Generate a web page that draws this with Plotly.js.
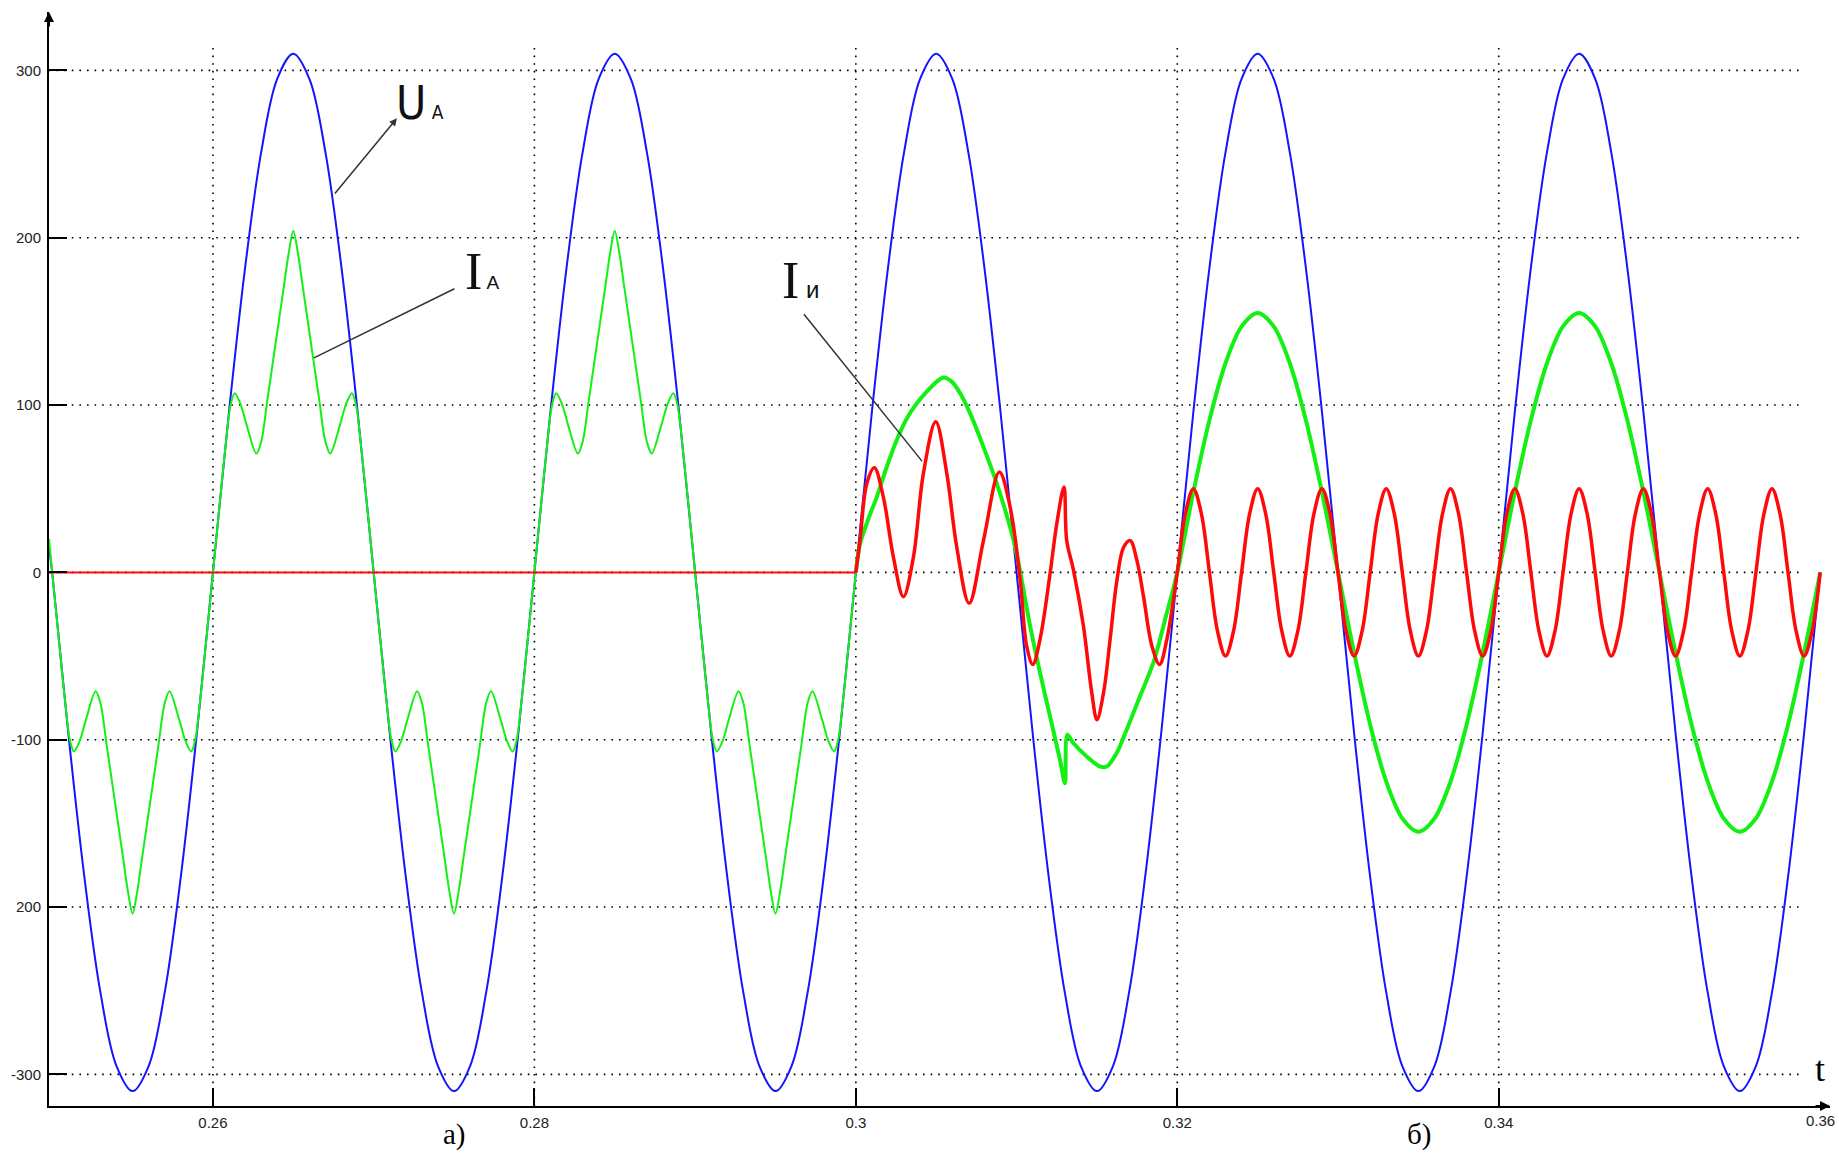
<!DOCTYPE html>
<html>
<head>
<meta charset="utf-8">
<script src="https://cdn.plot.ly/plotly-3.0.1.min.js"></script>
<style>html,body{margin:0;padding:0;background:#fff;}#chart{width:1839px;height:1155px;}</style>
</head>
<body>
<div id="chart"></div>
<script>
// ---------------- data ----------------
// U_A (voltage), blue
var uT = [0.2498,
0.250,0.251,0.252,0.253,0.254,0.255,0.256,0.257,0.258,0.259,
0.260,0.261,0.262,0.263,0.264,0.265,0.266,0.267,0.268,0.269,
0.270,0.271,0.272,0.273,0.274,0.275,0.276,0.277,0.278,0.279,
0.280,0.281,0.282,0.283,0.284,0.285,0.286,0.287,0.288,0.289,
0.290,0.291,0.292,0.293,0.294,0.295,0.296,0.297,0.298,0.299,
0.300,0.301,0.302,0.303,0.304,0.305,0.306,0.307,0.308,0.309,
0.310,0.311,0.312,0.313,0.314,0.315,0.316,0.317,0.318,0.319,
0.320,0.321,0.322,0.323,0.324,0.325,0.326,0.327,0.328,0.329,
0.330,0.331,0.332,0.333,0.334,0.335,0.336,0.337,0.338,0.339,
0.340,0.341,0.342,0.343,0.344,0.345,0.346,0.347,0.348,0.349,
0.350,0.351,0.352,0.353,0.354,0.355,0.356,0.357,0.358,0.359,
0.360];
var uV = [15,
0,-96,-182,-251,-295,-310,-295,-251,-182,-96,
0,96,182,251,295,310,295,251,182,96,
0,-96,-182,-251,-295,-310,-295,-251,-182,-96,
0,96,182,251,295,310,295,251,182,96,
0,-96,-182,-251,-295,-310,-295,-251,-182,-96,
0,96,182,251,295,310,295,251,182,96,
0,-96,-182,-251,-295,-310,-295,-251,-182,-96,
0,96,182,251,295,310,295,251,182,96,
0,-96,-182,-251,-295,-310,-295,-251,-182,-96,
0,96,182,251,295,310,295,251,182,96,
0,-96,-182,-251,-295,-310,-295,-251,-182,-96,
0];

// I_A (line current) before compensation, thin green, 0.25 .. 0.30
var iaT1 = [0.2498,
0.2500,0.2504,0.2508,0.2511,0.25135,0.2517,0.2521,0.2527,0.2530,0.2534,0.2539,0.2544,0.2547,0.2550,0.2553,0.2556,0.2561,0.2566,0.2570,0.2573,0.2579,0.2583,0.25865,0.2589,0.2592,0.2596,
0.2600,0.2604,0.2608,0.2611,0.26135,0.2617,0.2621,0.2627,0.2630,0.2634,0.2639,0.2644,0.2647,0.2650,0.2653,0.2656,0.2661,0.2666,0.2670,0.2673,0.2679,0.2683,0.26865,0.2689,0.2692,0.2696,
0.2700,0.2704,0.2708,0.2711,0.27135,0.2717,0.2721,0.2727,0.2730,0.2734,0.2739,0.2744,0.2747,0.2750,0.2753,0.2756,0.2761,0.2766,0.2770,0.2773,0.2779,0.2783,0.27865,0.2789,0.2792,0.2796,
0.2800,0.2804,0.2808,0.2811,0.28135,0.2817,0.2821,0.2827,0.2830,0.2834,0.2839,0.2844,0.2847,0.2850,0.2853,0.2856,0.2861,0.2866,0.2870,0.2873,0.2879,0.2883,0.28865,0.2889,0.2892,0.2896,
0.2900,0.2904,0.2908,0.2911,0.29135,0.2917,0.2921,0.2927,0.2930,0.2934,0.2939,0.2944,0.2947,0.2950,0.2953,0.2956,0.2961,0.2966,0.2970,0.2973,0.2979,0.2983,0.29865,0.2989,0.2992,0.2996,
0.3000];
var iaV1 = [20,
0,-39,-77,-100,-107,-101,-88,-71,-78,-104,-137,-170,-190,-204,-190,-170,-137,-104,-78,-71,-88,-101,-107,-100,-77,-39,
0,39,77,100,107,101,88,71,78,104,137,170,190,204,190,170,137,104,78,71,88,101,107,100,77,39,
0,-39,-77,-100,-107,-101,-88,-71,-78,-104,-137,-170,-190,-204,-190,-170,-137,-104,-78,-71,-88,-101,-107,-100,-77,-39,
0,39,77,100,107,101,88,71,78,104,137,170,190,204,190,170,137,104,78,71,88,101,107,100,77,39,
0,-39,-77,-100,-107,-101,-88,-71,-78,-104,-137,-170,-190,-204,-190,-170,-137,-104,-78,-71,-88,-101,-107,-100,-77,-39,
0];

// I_A after the filter is switched on (transient), thick green
var iaT2 = [0.3000,0.30026,0.30078,0.3013,0.30192,0.30254,0.30317,0.30379,0.30441,0.30504,0.30545,0.30597,0.30649,0.30711,0.30794,0.30877,0.3096,0.31001,0.31084,0.31146,0.31208,0.3127,0.31301,0.31316,0.31353,0.31436,0.31519,0.31561,0.31623,0.31685,0.31768,0.31851,0.31934,0.3200];
var iaV2 = [0,17,32,45,63,79,92,101,108,114,116.5,114,107,95,75,53,27,11,-32,-60,-86,-112,-126,-97,-102,-110,-116,-116,-108,-94,-74,-54,-24.5,0];
// I_A steady state, thick green
var iaT3 = [0.321,0.322,0.323,0.324,0.325,0.326,0.327,0.328,0.329,0.330,
0.331,0.332,0.333,0.334,0.335,0.336,0.337,0.338,0.339,0.340,
0.341,0.342,0.343,0.344,0.345,0.346,0.347,0.348,0.349,0.350,
0.351,0.352,0.353,0.354,0.355,0.356,0.357,0.358,0.359,0.360];
var iaV3 = [48,91,125,147,155,147,125,91,48,0,
-48,-91,-125,-147,-155,-147,-125,-91,-48,0,
48,91,125,147,155,147,125,91,48,0,
-48,-91,-125,-147,-155,-147,-125,-91,-48,0];

// I_и (filter current), red
var iiT1 = [0.2498,0.3000];
var iiV1 = [0,0];
var iiT2 = [0.3000,0.30026,0.30068,0.30115,0.30171,0.30234,0.30296,0.30358,0.30420,0.30497,0.30566,0.30628,0.30705,0.30794,0.30893,0.3096,0.31022,0.31063,0.31101,0.31146,0.31208,0.3125,0.31295,0.31312,0.31354,0.31416,0.31468,0.315,0.31541,0.31582,0.31624,0.31666,0.31707,0.31749,0.3179,0.31842,0.3189,0.31935,0.3200];
var iiV2 = [0,19,53,62.5,45,9,-14.5,9,59,90,59,15,-18.5,19,60,39,-4,-44,-55,-40,-1,29,51,19,1.4,-32,-72,-88,-72,-40,-5,15,19,7,-14.5,-44,-55,-40,0];
var iiT3 = [0.3205,0.3210,0.3215,0.3220,0.3225,0.3230,0.3235,0.3240,
0.3245,0.3250,0.3255,0.3260,0.3265,0.3270,0.3275,0.3280,
0.3285,0.3290,0.3295,0.3300,0.3305,0.3310,0.3315,0.3320,
0.3325,0.3330,0.3335,0.3340,0.3345,0.3350,0.3355,0.3360,
0.3365,0.3370,0.3375,0.3380,0.3385,0.3390,0.3395,0.3400,
0.3405,0.3410,0.3415,0.3420,0.3425,0.3430,0.3435,0.3440,
0.3445,0.3450,0.3455,0.3460,0.3465,0.3470,0.3475,0.3480,
0.3485,0.3490,0.3495,0.3500,0.3505,0.3510,0.3515,0.3520,
0.3525,0.3530,0.3535,0.3540,0.3545,0.3550,0.3555,0.3560,
0.3565,0.3570,0.3575,0.3580,0.3585,0.3590,0.3595,0.3600];
var iiV3 = [35,50,35,0,-35,-50,-35,0,
35,50,35,0,-35,-50,-35,0,
35,50,35,0,-35,-50,-35,0,
35,50,35,0,-35,-50,-35,0,
35,50,35,0,-35,-50,-35,0,
35,50,35,0,-35,-50,-35,0,
35,50,35,0,-35,-50,-35,0,
35,50,35,0,-35,-50,-35,0,
35,50,35,0,-35,-50,-35,0,
35,50,35,0,-35,-50,-35,0];

// axis ticks
var xTickVals = [0.26,0.28,0.30,0.32,0.34];
var xTickText = ['0.26','0.28','0.3','0.32','0.34'];
var xLastTick = '0.36';
var yTickVals = [-300,-200,-100,0,100,200,300];
var yTickText = ['-300','200','-100','0','100','200','300'];
var gridX = [0.26,0.28,0.30,0.32,0.34];
var gridY = [-300,-200,-100,0,100,200,300];

// ---------------- drawing ----------------
var X0 = 0.2498, X1 = 0.36061, Y0 = -318.9, Y1 = 334.9;
var BLUE = '#1414ff', GREEN = '#14f014', RED = '#ff0a0a';

var traces = [
  {x: uT, y: uV, mode: 'lines', line: {color: BLUE, width: 2, shape: 'spline', smoothing: 1}},
  {x: iaT1, y: iaV1, mode: 'lines', line: {color: GREEN, width: 2, shape: 'spline', smoothing: 0.9}},
  {x: iaT2.concat(iaT3), y: iaV2.concat(iaV3), mode: 'lines', line: {color: GREEN, width: 4, shape: 'spline', smoothing: 0.9}},
  {x: iiT1, y: iiV1, mode: 'lines', line: {color: RED, width: 2}},
  {x: iiT2.concat(iiT3), y: iiV2.concat(iiV3), mode: 'lines', line: {color: RED, width: 3.5, shape: 'spline', smoothing: 1}}
];

var shapes = [];
gridY.forEach(function(v){
  shapes.push({type:'line', layer:'below', xref:'x', yref:'y', x0:X0, x1:0.35893, y0:v, y1:v,
    line:{color:'#000', width:1.6, dash:'1.6px,6px'}});
});
gridX.forEach(function(v){
  shapes.push({type:'line', layer:'below', xref:'x', yref:'y', x0:v, x1:v, y0:Y0, y1:316,
    line:{color:'#000', width:1.6, dash:'1.6px,6px'}});
});
// pointer lines for labels
shapes.push({type:'line', xref:'x', yref:'y', x0:0.275026, y0:169.5, x1:0.266284, y1:128.2, line:{color:'#333', width:1.5}});
shapes.push({type:'line', xref:'x', yref:'y', x0:0.296772, y0:154.3, x1:0.304115, y1:66.5, line:{color:'#333', width:1.5}});

var tickFont = {family: 'Liberation Sans, Arial, sans-serif', size: 15, color: '#222'};

var annotations = [
  // U_A label and arrow
  {xref:'x', yref:'y', x:0.271262, y:263.2, xanchor:'left', yanchor:'bottom', showarrow:false,
   text:"U<span style='font-size:19px'> A</span>",
   font:{family:'Liberation Sans Narrow, DejaVu Sans Condensed, Liberation Sans, sans-serif', size:46, color:'#111'}},
  {xref:'x', yref:'y', x:0.271449, y:271.4, axref:'x', ayref:'y', ax:0.267510, ay:225.5,
   text:'', showarrow:true, arrowhead:2, arrowsize:1, arrowwidth:1.5, arrowcolor:'#333'},
  // I_A label
  {xref:'x', yref:'y', x:0.275555, y:161.5, xanchor:'left', yanchor:'bottom', showarrow:false,
   text:"I<span style='font-family:Liberation Sans, sans-serif;font-size:19px'> A</span>",
   font:{family:'Liberation Serif, serif', size:52, color:'#111'}},
  // I_и label
  {xref:'x', yref:'y', x:0.295279, y:156.2, xanchor:'left', yanchor:'bottom', showarrow:false,
   text:"I<span style='font-family:Liberation Sans, sans-serif;font-size:24px'> и</span>",
   font:{family:'Liberation Serif, serif', size:52, color:'#111'}},
  // axis arrowheads
  {xref:'paper', yref:'paper', x:1, y:0, ax:-16, ay:0, text:'', showarrow:true, arrowhead:2, arrowsize:1, arrowwidth:2, arrowcolor:'#000'},
  {xref:'paper', yref:'paper', x:0, y:1, ax:0, ay:16, text:'', showarrow:true, arrowhead:2, arrowsize:1, arrowwidth:2, arrowcolor:'#000'},
  // last x tick label
  {xref:'paper', yref:'paper', x:0.99450, y:-0.0137, xanchor:'center', yanchor:'middle', showarrow:false, text:xLastTick, font:tickFont},
  // t, а), б)
  {xref:'paper', yref:'paper', x:0.9944, y:0.0338, xanchor:'center', yanchor:'middle', showarrow:false, text:'t',
   font:{family:'Liberation Serif, serif', size:36, color:'#000'}},
  {xref:'paper', yref:'paper', x:0.22796, y:-0.0265, xanchor:'center', yanchor:'middle', showarrow:false, text:'а)',
   font:{family:'Liberation Serif, serif', size:29, color:'#000'}},
  {xref:'paper', yref:'paper', x:0.76923, y:-0.0260, xanchor:'center', yanchor:'middle', showarrow:false, text:'б)',
   font:{family:'Liberation Serif, serif', size:29, color:'#000'}}
];

var layout = {
  width: 1839, height: 1155,
  margin: {l: 49, r: 9, t: 12, b: 49, pad: 0},
  paper_bgcolor: '#fff', plot_bgcolor: '#fff',
  showlegend: false,
  xaxis: {range: [X0, X1], showgrid: false, zeroline: false, showline: true, linecolor: '#000', linewidth: 2,
    tickmode: 'array', tickvals: xTickVals, ticktext: xTickText, ticks: 'inside', ticklen: 18, tickwidth: 2, tickcolor: '#000',
    tickfont: tickFont, ticklabelstandoff: 2, automargin: false, fixedrange: true},
  yaxis: {range: [Y0, Y1], showgrid: false, zeroline: false, showline: true, linecolor: '#000', linewidth: 2,
    tickmode: 'array', tickvals: yTickVals, ticktext: yTickText, ticks: 'inside', ticklen: 18, tickwidth: 2, tickcolor: '#000',
    tickfont: tickFont, ticklabelstandoff: 3, automargin: false, fixedrange: true},
  shapes: shapes,
  annotations: annotations
};

Plotly.newPlot('chart', traces, layout, {displayModeBar: false, staticPlot: true});
</script>
</body>
</html>
